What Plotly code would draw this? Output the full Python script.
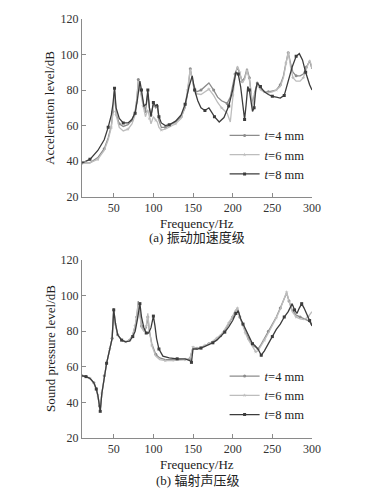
import plotly.graph_objects as go

# ---------------- (a) Acceleration level ----------------
acc_f_4 = [10, 20, 30, 38, 43, 47, 49, 51, 53, 57, 62, 68, 73, 77, 79, 81, 84, 87, 90, 93, 95, 97, 100, 103, 105, 107,
           110, 115, 120, 128, 135, 140, 143, 146.5, 150, 154, 160, 165, 170, 176, 181, 186, 193, 197, 200, 203, 206,
           209, 212, 215, 218, 221, 225, 228, 231, 235, 240, 245, 250, 255, 260, 264, 267, 270, 273, 276, 280, 285,
           289, 293, 297, 300]
acc_4 = [39, 39, 42, 47, 53, 60, 68, 80, 67, 61, 59.5, 60.5, 63, 68, 74, 86, 79, 73, 68, 78, 70, 66, 72, 70, 71, 63,
         59, 59, 60, 62, 65, 70, 78, 92, 84, 79, 80, 82, 84, 80, 76, 74, 72.5, 76, 82, 89, 93, 89, 85, 87, 92, 87, 72,
         79, 84, 81, 79, 79, 79.5, 80, 83, 88, 95, 101, 95, 90, 88, 88, 89, 93, 96.5, 92]

acc_f_6 = acc_f_4
acc_6 = [39, 39, 41, 46, 52, 59, 67, 79, 66, 59, 57, 58, 61, 66, 73, 85, 78, 71, 65, 69, 64, 61, 65, 63, 62, 59,
         57.5, 58, 59, 61, 64, 71, 80, 92, 83, 78, 77.5, 79, 80.5, 77, 73, 70, 67, 62, 77, 88, 93.5, 90, 84, 86, 91,
         86, 71, 78, 83, 80, 79, 78.5, 79, 80, 82, 87, 95, 101.5, 93, 87, 85, 85, 87, 92, 97, 93]

acc_f_8 = [10, 20, 30, 38, 43, 47, 49, 51, 53, 57, 62, 68, 73, 77, 80, 83, 85, 88, 91, 93, 95, 97, 100, 103, 105, 107,
           110, 115, 120, 128, 135, 140, 145, 149, 152, 156, 160, 165, 170, 173, 177, 183, 189, 195, 200, 204, 207,
           210, 213, 215, 217, 219, 221, 223, 225, 227, 229, 231, 235, 240, 245, 250, 255, 260, 265, 270, 275, 280,
           284, 288, 292, 297, 300]
acc_8 = [39, 41, 46, 52, 59, 66, 72, 81, 70, 64, 61.5, 61.5, 63.5, 67, 75, 85, 80, 71, 72, 80, 70, 65, 73, 71, 72, 65,
         61.5, 60, 60.5, 62.5, 66, 72, 82, 88, 80, 74, 70, 68.5, 70, 68, 65, 62, 64.5, 71, 80, 90, 89, 82, 71, 63.5,
         72, 82, 80, 74, 68, 70, 80, 84, 82, 79, 77.5, 76.5, 76, 75.5, 77, 85, 93, 99, 100.5, 97, 90, 83, 80]

# ---------------- (b) Sound pressure level ----------------
spl_f_4 = [10, 15, 20, 25, 28, 30, 32, 33, 35, 38, 41, 45, 48, 50, 52, 55, 60, 65, 70, 74, 77, 79, 81, 83, 85, 88, 91,
           93, 95, 98, 103, 108, 115, 125, 135, 140, 146, 148, 150, 155, 160, 165, 170, 175, 180, 185, 190, 195, 200,
           203, 206, 209, 212, 216, 220, 225, 229, 232, 235, 240, 245, 250, 255, 260, 264, 268, 271, 275, 280, 285,
           290, 295, 300]
spl_4 = [55, 54.5, 53.5, 51, 47.5, 44, 38, 35.5, 45, 55, 62, 70, 76, 93, 84, 78, 75, 74, 75, 78, 83, 88, 97, 90, 83, 80,
         82, 88, 80, 73, 67, 65, 64, 64, 64, 64, 64.5, 68, 71, 70.5, 71, 72, 73, 74, 75.5, 77.5, 80.5, 84, 88, 91, 93,
         88, 84, 80, 76, 72, 71, 70, 72, 76, 80, 84, 88, 93, 97, 101.5, 97, 92, 89, 88, 87, 86, 84]

spl_f_6 = spl_f_4
spl_6 = [55, 54.5, 53.5, 51, 47.5, 44, 38, 35.5, 45, 55, 62, 70, 76, 92.5, 84, 78, 75, 74, 75, 78, 83, 88, 96.5, 89, 82,
         80, 83, 90, 80, 72, 66, 64, 63.5, 63.5, 64, 64, 64.5, 68, 71, 70.5, 71, 72, 73, 74.5, 76, 78, 81, 84.5, 88.5,
         91.5, 93, 88, 84, 79, 75, 71, 68.5, 69, 71, 75, 79, 83, 87.5, 92.5, 97, 102, 97, 91, 88, 87, 86.5, 88, 91]

spl_f_8 = [10, 15, 20, 25, 28, 30, 32, 33, 35, 38, 41, 45, 48, 50, 52, 55, 60, 65, 70, 74, 77, 80, 83, 85, 88, 91, 94,
           97, 100, 102, 104, 107, 112, 120, 130, 140, 146, 148, 150, 155, 160, 165, 170, 175, 180, 185, 190, 195, 200,
           204, 207, 210, 213, 217, 221, 225, 228, 232, 236, 240, 245, 250, 255, 260, 265, 270, 275, 278, 281, 284,
           287, 290, 294, 297, 300]
spl_8 = [55, 54.5, 53.5, 51, 47.5, 44, 38, 35, 45, 55, 62, 70, 76, 92, 85, 78, 75, 74, 74.5, 77, 80, 87, 95.5, 88, 82,
         79, 79, 82, 88.5, 83, 76, 70, 66, 65, 64.5, 64.5, 63.5, 62.5, 70, 70, 70.5, 71.5, 72.5, 73.5, 75, 77, 79.5,
         82.5, 86, 90, 91.5, 87, 84, 80, 76, 73, 72, 70, 66.5, 69, 73, 77, 81, 84, 88, 91, 95.5, 92, 90, 93, 95.5, 93,
         89, 86, 83]

names = ["<i>t</i>=4 mm", "<i>t</i>=6 mm", "<i>t</i>=8 mm"]
colors = ["#8c8c8c", "#bdbdbd", "#3c3c3c"]
symbols = ["circle", "star", "square"]

FONT = "Liberation Serif, Times New Roman, Noto Sans CJK SC, serif"

fig = go.Figure()

top = [(acc_f_4, acc_4), (acc_f_6, acc_6), (acc_f_8, acc_8)]
bot = [(spl_f_4, spl_4), (spl_f_6, spl_6), (spl_f_8, spl_8)]

for i, (fx, fy) in enumerate(top):
    fig.add_trace(go.Scatter(
        x=fx, y=fy, mode="lines+markers", name=names[i], xaxis="x", yaxis="y", legend="legend",
        line=dict(color=colors[i], width=1.3),
        marker=dict(symbol=symbols[i], size=3, color=colors[i], maxdisplayed=28)))
for i, (fx, fy) in enumerate(bot):
    fig.add_trace(go.Scatter(
        x=fx, y=fy, mode="lines+markers", name=names[i], xaxis="x2", yaxis="y2", legend="legend2",
        line=dict(color=colors[i], width=1.3),
        marker=dict(symbol=symbols[i], size=3, color=colors[i], maxdisplayed=28)))

axis_common = dict(showline=True, linecolor="#8a8a8a", linewidth=1, showgrid=False, zeroline=False,
                   ticks="inside", ticklen=4, tickcolor="#8a8a8a",
                   tickfont=dict(family=FONT, size=12, color="#333"))
xcommon = dict(axis_common, range=[10, 300], tickvals=[50, 100, 150, 200, 250, 300])
ycommon = dict(axis_common, range=[20, 120], tickvals=[20, 40, 60, 80, 100, 120])

fig.update_layout(
    width=376, height=492,
    margin=dict(l=82, r=64, t=17, b=53.5),
    plot_bgcolor="white", paper_bgcolor="white",
    showlegend=True,
    xaxis=dict(xcommon, domain=[0, 1], anchor="y"),
    yaxis=dict(ycommon, domain=[0.576, 1], anchor="x"),
    xaxis2=dict(xcommon, domain=[0, 1], anchor="y2"),
    yaxis2=dict(ycommon, domain=[0, 0.4247], anchor="x2"),
    legend=dict(x=0.62, y=0.757, xanchor="left", yanchor="top", bgcolor="rgba(0,0,0,0)",
                font=dict(family=FONT, size=12.5, color="#222"), itemwidth=30),
    legend2=dict(x=0.62, y=0.1827, xanchor="left", yanchor="top", bgcolor="rgba(0,0,0,0)",
                 font=dict(family=FONT, size=12.5, color="#222"), itemwidth=30),
)

ann_font = dict(family=FONT, size=13, color="#222")
annotations = [
    dict(text="Frequency/Hz", x=0.5, y=0.5125),
    dict(text="(a) 振动加速度级", x=0.5, y=0.479),
    dict(text="Frequency/Hz", x=0.5, y=-0.0629),
    dict(text="(b) 辐射声压级", x=0.5, y=-0.1008),
    dict(text="Acceleration level/dB", x=-0.139, y=0.788, textangle=-90),
    dict(text="Sound pressure level/dB", x=-0.139, y=0.2123, textangle=-90),
]
for a in annotations:
    a.update(xref="paper", yref="paper", showarrow=False, xanchor="center", yanchor="middle",
             font=ann_font, borderpad=0)
fig.update_layout(annotations=annotations)

fig.write_html("out.html", config={"displayModeBar": False},
               post_script="document.body.style.margin='0px';")
